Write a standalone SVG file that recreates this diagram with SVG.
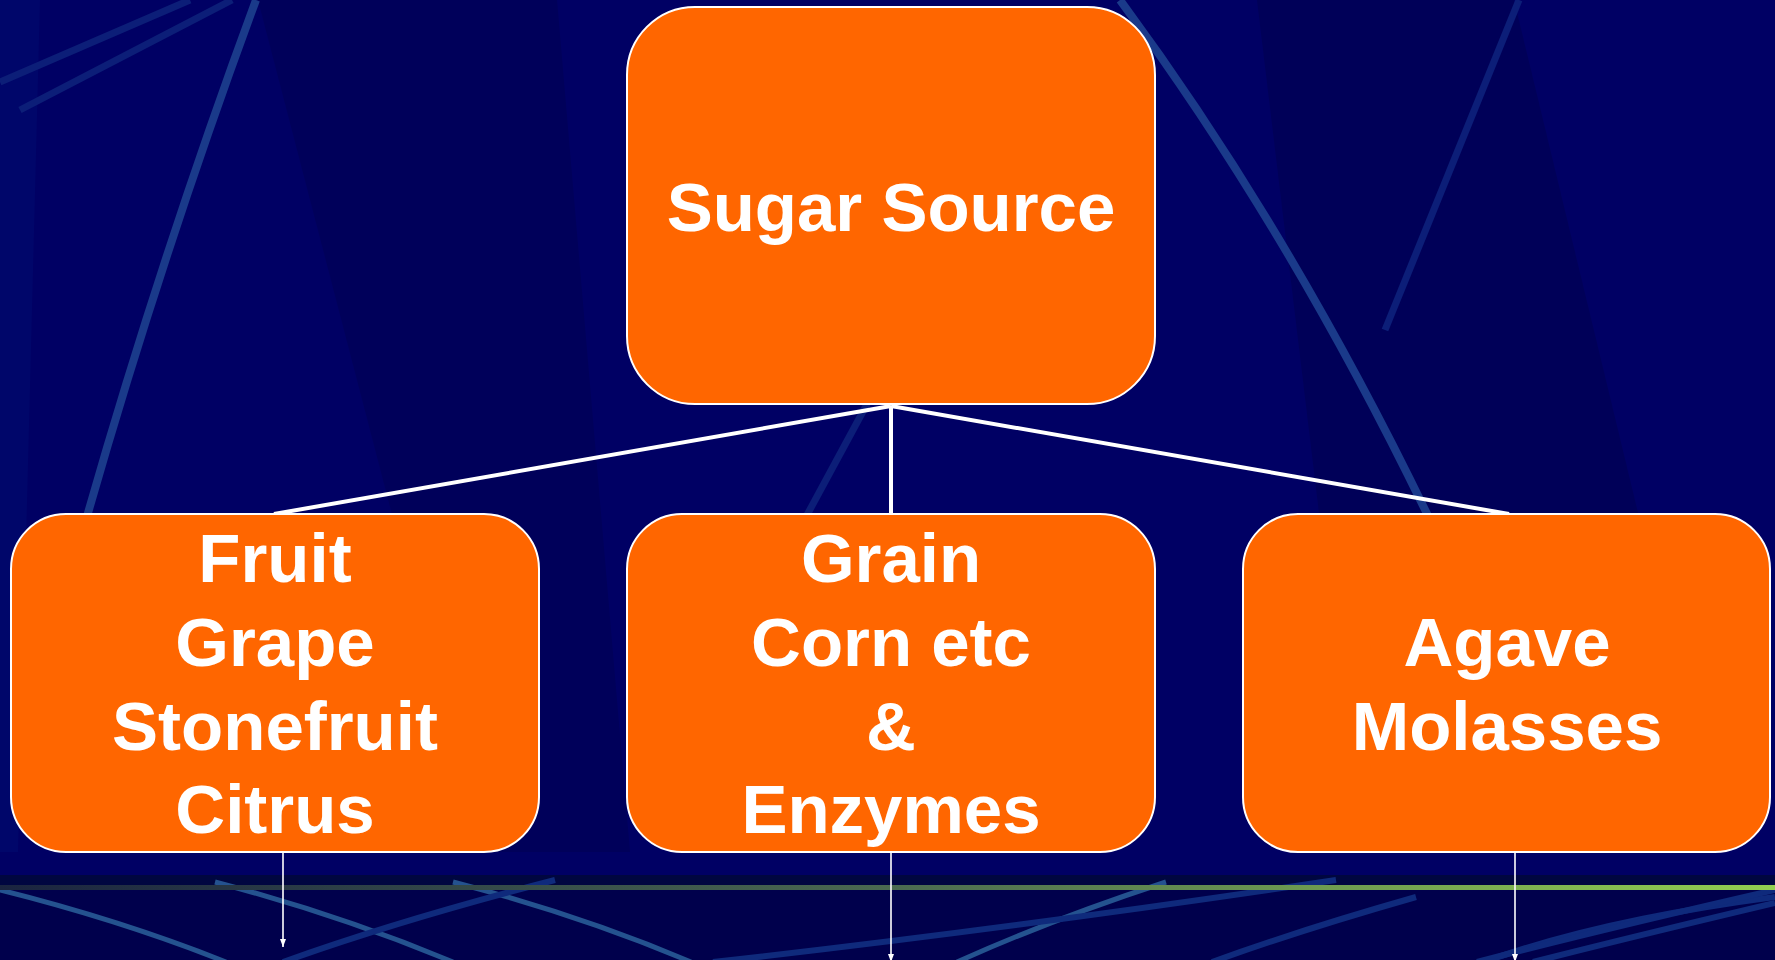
<svg xmlns="http://www.w3.org/2000/svg" width="1775" height="960" viewBox="0 0 1775 960">
<defs>
<linearGradient id="band" x1="0" y1="0" x2="1" y2="0">
<stop offset="0" stop-color="#1a2440"/>
<stop offset="0.5" stop-color="#4a6a50"/>
<stop offset="1" stop-color="#92d050"/>
</linearGradient>
<marker id="arr" viewBox="0 0 8 6" refX="8" refY="3" markerWidth="8" markerHeight="6" markerUnits="userSpaceOnUse" orient="auto">
<path d="M0,0 L8,3 L0,6 Z" fill="#ffffff"/>
</marker>
<style>
.box{fill:#ff6600;stroke:#ffffff;stroke-width:2}
.lbl{font-family:"Liberation Sans",Arial,sans-serif;font-weight:bold;font-size:69px;fill:#ffffff;text-anchor:middle}
.con{stroke:#ffffff;stroke-width:4;fill:none}
.drop{stroke:#ffffff;stroke-width:1.6;fill:none}
.st{fill:none;stroke:#1a3a8a;stroke-width:8}
.st2{fill:none;stroke:#0c1e78;stroke-width:7}
.bl{fill:none;stroke:#24528f;stroke-width:5}
.bd{fill:none;stroke:#0f2a7c;stroke-width:6}
</style>
</defs>
<g id="background">
<rect x="0" y="0" width="1775" height="960" fill="#000064"/>
<polygon points="258,0 557,0 630,852 480,852" fill="#00005a"/>
<polygon points="1257,0 1514,0 1720,852 1360,852" fill="#000058"/>
<polygon points="0,0 40,0 18,852 0,852" fill="#00066a"/>
<path class="st2" d="M0,82 L190,0"/>
<path class="st2" d="M20,110 L232,0" stroke-width="5"/>
<path class="st" d="M256,0 Q160,260 86,520"/>
<path class="st2" d="M807,515 L880,380"/>
<path class="st" d="M1120,0 Q1290,230 1430,520"/>
<path class="st2" d="M1519,0 L1385,330" stroke-width="6"/>
<rect x="0" y="852" width="1775" height="23" fill="#000064"/>
<rect x="0" y="875" width="1775" height="10" fill="#000640"/>
<rect x="0" y="890" width="1775" height="70" fill="#00004c"/>
<path class="bl" d="M0,890 Q120,920 226,962"/>
<path class="bl" d="M215,882 Q340,915 453,962"/>
<path class="bl" d="M453,882 Q580,915 691,962"/>
<path class="bd" d="M555,880 Q400,920 283,962"/>
<path class="bl" d="M1166,882 Q1050,920 957,962"/>
<path class="bd" d="M1336,880 Q1000,930 713,962"/>
<path class="bd" d="M1416,897 Q1300,930 1212,962"/>
<path class="bd" d="M1775,897 Q1600,920 1484,962"/>
<path class="bd" d="M1775,890 Q1600,930 1477,962" stroke="#1a3a8a"/>
<path class="bd" d="M1775,903 Q1640,935 1533,962" stroke="#1a3a8a"/>
<rect x="0" y="885" width="1775" height="5" fill="url(#band)"/>
</g>
<g id="connectors">
<path class="con" d="M891,406 L274,514"/>
<path class="con" d="M891,406 L891,514"/>
<path class="con" d="M891,406 L1509,514"/>
<path class="drop" d="M283,852 L283,947" marker-end="url(#arr)"/>
<path class="drop" d="M891,852 L891,962" marker-end="url(#arr)"/>
<path class="drop" d="M1515,852 L1515,962" marker-end="url(#arr)"/>
</g>
<g id="node-sugar-source">
<rect class="box" x="627" y="7" width="528" height="397" rx="68" ry="68"/>
<text class="lbl" x="891" y="231">Sugar Source</text>
</g>
<g id="node-fruit">
<rect class="box" x="11" y="514" width="528" height="338" rx="55" ry="55"/>
<text class="lbl" x="275" y="582">Fruit</text>
<text class="lbl" x="275" y="666">Grape</text>
<text class="lbl" x="275" y="750">Stonefruit</text>
<text class="lbl" x="275" y="833">Citrus</text>
</g>
<g id="node-grain">
<rect class="box" x="627" y="514" width="528" height="338" rx="55" ry="55"/>
<text class="lbl" x="891" y="582">Grain</text>
<text class="lbl" x="891" y="666">Corn etc</text>
<text class="lbl" x="891" y="750">&amp;</text>
<text class="lbl" x="891" y="833">Enzymes</text>
</g>
<g id="node-agave">
<rect class="box" x="1243" y="514" width="527" height="338" rx="55" ry="55"/>
<text class="lbl" x="1507" y="666">Agave</text>
<text class="lbl" x="1507" y="750">Molasses</text>
</g>
</svg>
